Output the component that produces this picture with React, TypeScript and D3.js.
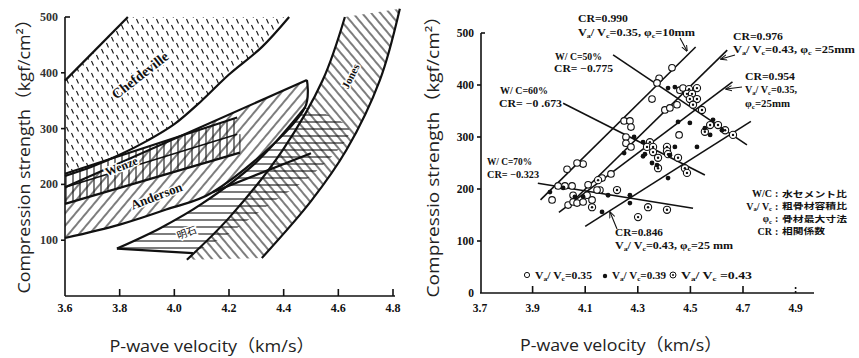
import React from 'react';
import * as d3 from 'd3';

type P = [number, number];

// ---------- axis ticks ----------
const LEFT_X_TICKS = [3.6, 3.8, 4.0, 4.2, 4.4, 4.6, 4.8];
const LEFT_Y_TICKS = [100, 200, 300, 400, 500];
const RIGHT_X_TICKS = [3.7, 3.9, 4.1, 4.3, 4.5, 4.7, 4.9];
const RIGHT_Y_TICKS = [0, 100, 200, 300, 400, 500];

// ---------- left chart: regions (velocity km/s, strength kgf/cm2) ----------
const CHEF_UPPER: P[] = [[3.6, 386], [3.83, 500]];
const CHEF_LOWER: P[] = [[3.6, 215], [3.7, 232], [3.8, 253], [3.9, 278], [4.0, 308], [4.1, 350], [4.2, 397], [4.32, 446], [4.42, 500]];
const WENZE_TOP: P[] = [[3.6, 219], [4.23, 320]];
const WENZE_MID: P[] = [[3.6, 195], [4.23, 290]];
const WENZE_BOTTOM: P[] = [[3.6, 165], [4.24, 257]];
const ANDERSON_TOP: P[] = [[3.6, 195], [4.485, 387]];
const ANDERSON_BOTTOM: P[] = [[3.6, 104], [3.8, 128], [3.97, 155], [4.14, 186], [4.478, 338], [4.485, 387]];
const ANDERSON_EXTRA: P[] = [[4.14, 186], [4.5, 256]];
const AKASHI_TOP: P[] = [[3.79, 85], [3.95, 122], [4.1, 165], [4.3, 240], [4.478, 338]];
const AKASHI_RIGHT: P[] = [[4.478, 338], [4.56, 325], [4.64, 297], [4.52, 224], [4.345, 163], [4.2, 112], [4.068, 77]];
const AKASHI_BOTTOM: P[] = [[4.068, 77], [3.79, 85]];
const JONES_LEFT: P[] = [[4.046, 65], [4.2, 140], [4.397, 262], [4.543, 387], [4.624, 500]];
const JONES_RIGHT: P[] = [[4.32, 68], [4.5, 170], [4.63, 262], [4.752, 387], [4.825, 515]];

// ---------- right chart: regression lines ----------
const LINE_CR990: P[] = [[3.93, 179], [4.52, 473]];
const LINE_CR976: P[] = [[4.05, 175], [4.64, 467]];
const LINE_CR954: P[] = [[4.0, 155], [4.66, 406]];
const LINE_CR846: P[] = [[4.1, 128], [4.73, 330]];
const LINE_WC50: P[] = [[4.206, 458], [4.715, 285]];
const LINE_WC60: P[] = [[4.016, 365], [4.555, 227]];
const LINE_WC70: P[] = [[3.92, 211], [4.51, 163]];

// ---------- right chart: data points ----------
const OPEN_PTS: P[] = [
  [4.43, 433], [4.381, 413], [4.373, 404], [4.354, 373], [4.248, 331], [4.27, 331], [4.274, 319],
  [4.255, 300], [4.255, 288], [4.274, 281], [4.092, 248], [4.069, 250], [4.031, 238], [4.198, 229],
  [4.403, 352], [4.422, 356], [4.449, 362], [4.46, 390], [4.457, 304], [4.472, 394],
  [3.974, 179], [3.997, 206], [4.023, 206], [4.05, 206], [4.111, 208], [4.035, 169], [4.054, 175],
  [4.069, 173], [4.092, 175], [4.107, 188], [4.126, 179], [4.156, 198], [4.145, 198], [4.164, 221],
  [4.054, 188],
];
const FILLED_PTS: P[] = [
  [4.415, 394], [4.441, 396], [4.286, 300], [4.453, 329], [4.498, 327], [4.586, 333], [4.555, 317],
  [4.575, 304], [4.62, 313], [4.525, 281], [4.441, 281], [4.422, 265], [4.354, 250], [4.373, 246],
  [4.32, 263], [4.248, 269], [4.415, 221], [3.966, 194], [4.016, 202], [4.061, 185], [4.092, 185],
  [4.164, 156], [4.27, 173], [4.27, 188], [4.187, 188], [4.32, 290], [4.327, 267],
];
const DOUBLE_PTS: P[] = [
  [4.495, 392], [4.525, 394], [4.487, 383], [4.506, 383], [4.525, 373], [4.498, 373], [4.51, 362],
  [4.544, 352], [4.555, 310], [4.575, 323], [4.605, 323], [4.632, 313], [4.662, 304],
  [4.346, 290], [4.335, 281], [4.358, 281], [4.358, 271], [4.377, 260], [4.377, 240], [4.411, 281],
  [4.411, 273], [4.415, 267], [4.453, 260], [4.479, 240], [4.487, 231], [4.221, 198], [4.126, 165],
  [4.301, 146], [4.339, 165], [4.411, 160], [4.149, 217],
];

// ---------- text ----------
const ANNOTATIONS: { t: string; x: number; y: number; w: number }[] = [
  { t: 'CR=0.990', x: 578, y: 22, w: 50 },
  { t: 'V_a/ V_c=0.35,  φ_c=10mm', x: 578, y: 36, w: 117 },
  { t: 'CR=0.976', x: 733, y: 40, w: 50 },
  { t: 'V_a/ V_c=0.43,  φ_c =25mm', x: 733, y: 53, w: 122 },
  { t: 'CR=0.954', x: 745, y: 80, w: 50 },
  { t: 'V_a/ V_c=0.35,', x: 745, y: 93, w: 52 },
  { t: 'φ_c=25mm', x: 745, y: 107, w: 45 },
  { t: 'W/ C=50%', x: 555, y: 60, w: 47 },
  { t: 'CR= −0.775', x: 554, y: 72, w: 59 },
  { t: 'W/ C=60%', x: 500, y: 94, w: 48 },
  { t: 'CR= −0 .673', x: 499, y: 107, w: 63 },
  { t: 'W/ C=70%', x: 487, y: 165, w: 45 },
  { t: 'CR= −0.323', x: 487, y: 178, w: 52 },
  { t: 'CR=0.846', x: 615, y: 236, w: 48 },
  { t: 'V_a/ V_c=0.43,  φ_c=25 mm', x: 615, y: 249, w: 118 },
];
const LEGEND_ITEMS = ['V_a/ V_c=0.35', 'V_a/ V_c=0.39', 'V_a/ V_c =0.43'];
const NOTE_KEYS = ['W/C', 'V_a/ V_c', 'φ_c', 'CR'];
const NOTE_VALUES = ['水セメント比', '粗骨材容積比', '骨材最大寸法', '相関係数'];

const SERIF = '"Liberation Serif", "DejaVu Serif", serif';
const SANS = '"Open Sans", "Noto Sans", "Noto Sans CJK JP", sans-serif';
const CJK = '"Noto Sans CJK JP", "Noto Sans CJK SC", sans-serif';

function Rich({ s }: { s: string }) {
  const out: React.ReactNode[] = [];
  let buf = '';
  let shifted = false;
  let k = 0;
  const flush = () => {
    if (buf) {
      out.push(<tspan key={k++} dy={shifted ? -1.5 : 0}>{buf}</tspan>);
      shifted = false;
      buf = '';
    }
  };
  for (let i = 0; i < s.length; i++) {
    if (s[i] === '_' && i + 1 < s.length) {
      flush();
      out.push(<tspan key={k++} fontSize={6.5} dy={shifted ? 0 : 1.5}>{s[i + 1]}</tspan>);
      shifted = true;
      i++;
    } else {
      buf += s[i];
    }
  }
  flush();
  return <>{out}</>;
}

export default function App() {
  const xL = d3.scaleLinear().domain([3.6, 4.8]).range([65, 393]);
  const yL = d3.scaleLinear().domain([0, 500]).range([296, 17]);
  const xR = d3.scaleLinear().domain([3.7, 4.9]).range([480, 795.6]);
  const yR = d3.scaleLinear().domain([0, 500]).range([293, 33]);

  const lineL = d3.line<P>().x(d => xL(d[0])).y(d => yL(d[1]));
  const curveL = d3.line<P>().x(d => xL(d[0])).y(d => yL(d[1])).curve(d3.curveCatmullRom.alpha(0.5));
  const lineR = d3.line<P>().x(d => xR(d[0])).y(d => yR(d[1]));

  const join = (...segs: string[]) =>
    segs.map((s, i) => (i === 0 ? s : s.replace(/^M/, 'L'))).join('') + 'Z';

  const chefPoly = join(lineL(CHEF_UPPER) as string, lineL([[3.83, 500], [4.42, 500]]) as string, curveL([...CHEF_LOWER].reverse()) as string);
  const wenzePoly = join(lineL(WENZE_TOP) as string, lineL([[4.23, 320], [4.24, 257]]) as string, lineL([...WENZE_BOTTOM].reverse()) as string);
  const andersonPoly = join(lineL(ANDERSON_TOP) as string, curveL([...ANDERSON_BOTTOM].reverse()) as string);
  const akashiPoly = join(curveL(AKASHI_TOP) as string, curveL(AKASHI_RIGHT) as string, lineL(AKASHI_BOTTOM) as string);
  const jonesPoly = join(curveL(JONES_LEFT) as string, lineL([[4.624, 500], [4.825, 515]]) as string, curveL([...JONES_RIGHT].reverse()) as string);

  const bold = 2.2;
  const noteW = [65, 65, 65, 43];

  return (
    <svg width={859} height={358} style={{ position: 'absolute', left: 0, top: 0, background: '#fff' }}>
      <defs>
        <pattern id="pDash" width={10} height={12} patternUnits="userSpaceOnUse">
          <path d="M1.5,1 L3.5,5.5 M6.5,7 L8.5,11.5" stroke="#111" strokeWidth={1.1} />
        </pattern>
        <pattern id="pVert" width={7} height={10} patternUnits="userSpaceOnUse">
          <line x1={3} y1={0} x2={3} y2={10} stroke="#111" strokeWidth={1.1} />
        </pattern>
        <pattern id="pFwd" width={8} height={10} patternUnits="userSpaceOnUse" patternTransform="rotate(40)">
          <line x1={3} y1={0} x2={3} y2={10} stroke="#111" strokeWidth={1.1} />
        </pattern>
        <pattern id="pHoriz" width={10} height={7} patternUnits="userSpaceOnUse">
          <line x1={0} y1={3} x2={10} y2={3} stroke="#111" strokeWidth={1.1} />
        </pattern>
        <pattern id="pBack" width={7} height={10} patternUnits="userSpaceOnUse" patternTransform="rotate(-40)">
          <line x1={3} y1={0} x2={3} y2={10} stroke="#111" strokeWidth={1.1} />
        </pattern>
        <marker id="arrow" viewBox="0 0 10 10" refX={9} refY={5} markerWidth={6} markerHeight={6} orient="auto">
          <path d="M0,1 L10,5 L0,9" fill="none" stroke="#111" strokeWidth={1.5} />
        </marker>
      </defs>
      <rect x={0} y={0} width={859} height={358} fill="#fff" />

      {/* ================= LEFT CHART ================= */}
      <g>
        <path d={chefPoly} fill="url(#pDash)" />
        <path d={andersonPoly} fill="url(#pFwd)" />
        <path d={wenzePoly} fill="url(#pVert)" />
        <path d={akashiPoly} fill="url(#pHoriz)" />
        <path d={jonesPoly} fill="url(#pBack)" />

        <g fill="none" stroke="#111" strokeWidth={bold} strokeLinejoin="round">
          <path d={lineL(CHEF_UPPER) as string} />
          <path d={curveL(CHEF_LOWER) as string} />
          <path d={lineL(WENZE_TOP) as string} />
          <path d={lineL(WENZE_MID) as string} strokeWidth={1.6} />
          <path d={lineL(WENZE_BOTTOM) as string} />
          <path d={lineL([[4.24, 290], [4.24, 257]]) as string} strokeWidth={1} />
          <path d={lineL(ANDERSON_TOP) as string} />
          <path d={curveL(ANDERSON_BOTTOM) as string} />
          <path d={lineL(ANDERSON_EXTRA) as string} />
          <path d={curveL(AKASHI_TOP) as string} />
          <path d={lineL(AKASHI_BOTTOM) as string} />
          <path d={curveL(JONES_LEFT) as string} />
          <path d={curveL(JONES_RIGHT) as string} />
        </g>

        {/* region labels */}
        <g fontFamily={SERIF} fontWeight="bold" fill="#111" stroke="#fff" strokeWidth={3} style={{ paintOrder: 'stroke' }}>
          <text transform="translate(143,79) rotate(-38)" textAnchor="middle" fontSize={14}>Chefdeville</text>
          <text transform="translate(123,170) rotate(-22)" textAnchor="middle" fontSize={12}>Wenze</text>
          <text transform="translate(158,200) rotate(-21)" textAnchor="middle" fontSize={13}>Anderson</text>
          <text transform="translate(354,78) rotate(-63)" textAnchor="middle" fontSize={11}>Jones</text>
        </g>
        <text transform="translate(188,236) rotate(-20)" textAnchor="middle" fontSize={10} fontFamily={CJK}
          fill="#111" stroke="#fff" strokeWidth={3} style={{ paintOrder: 'stroke' }}>明石</text>

        {/* axes */}
        <g stroke="#111" strokeWidth={1.6} fill="none">
          <line x1={xL(3.6)} y1={yL(500)} x2={xL(3.6)} y2={yL(0)} />
          <line x1={xL(3.6)} y1={yL(0)} x2={395} y2={yL(0)} />
          {LEFT_X_TICKS.slice(1).map(v => (
            <line key={v} x1={xL(v)} y1={yL(0)} x2={xL(v)} y2={yL(0) - 7} />
          ))}
          {LEFT_Y_TICKS.map(s => (
            <line key={s} x1={xL(3.6) - (s === 500 ? 0 : 4)} y1={yL(s)} x2={xL(3.6) + (s === 500 ? 5 : 0)} y2={yL(s)} />
          ))}
        </g>
        <g fontFamily={SERIF} fontWeight="bold" fontSize={12} fill="#111">
          {LEFT_X_TICKS.map(v => (
            <text key={v} x={xL(v)} y={312} textAnchor="middle">{v.toFixed(1)}</text>
          ))}
          {LEFT_Y_TICKS.map(s => (
            <text key={s} x={58} y={yL(s) + 4} textAnchor="end" fill="#333">{s}</text>
          ))}
        </g>
        <text transform="translate(24,152) rotate(-90)" textAnchor="middle" dy="0.35em" fontFamily={SANS}
          fontSize={17} fill="#222" textLength={283} lengthAdjust="spacingAndGlyphs">Compression strength（kgf/cm²）</text>
        <text x={212} y={352} textAnchor="middle" fontFamily={SANS} fontSize={17} fill="#222"
          textLength={205} lengthAdjust="spacingAndGlyphs">P-wave velocity（km/s）</text>
      </g>

      {/* ================= RIGHT CHART ================= */}
      <g>
        <g stroke="#111" strokeWidth={1.6} fill="none">
          {[LINE_CR990, LINE_CR976, LINE_CR954, LINE_CR846, LINE_WC50, LINE_WC60, LINE_WC70].map((l, i) => (
            <path key={i} d={lineR(l) as string} />
          ))}
        </g>
        {/* leaders */}
        <g stroke="#111" strokeWidth={1.1} fill="none">
          <line x1={680} y1={38} x2={687} y2={51} markerEnd="url(#arrow)" />
          <line x1={735} y1={55} x2={721} y2={59} markerEnd="url(#arrow)" />
          <line x1={742} y1={87} x2={726} y2={89} markerEnd="url(#arrow)" />
          <line x1={617} y1={229} x2={610} y2={212} markerEnd="url(#arrow)" />
        </g>
        {/* points */}
        <g>
          {OPEN_PTS.map((p, i) => (
            <circle key={'o' + i} cx={xR(p[0])} cy={yR(p[1])} r={3.3} fill="#fff" stroke="#111" strokeWidth={1.1} />
          ))}
          {DOUBLE_PTS.map((p, i) => (
            <g key={'d' + i}>
              <circle cx={xR(p[0])} cy={yR(p[1])} r={3.6} fill="#fff" stroke="#111" strokeWidth={1.1} />
              <circle cx={xR(p[0])} cy={yR(p[1])} r={1.2} fill="#111" />
            </g>
          ))}
          {FILLED_PTS.map((p, i) => (
            <circle key={'f' + i} cx={xR(p[0])} cy={yR(p[1])} r={2.4} fill="#111" />
          ))}
        </g>

        {/* annotations */}
        <g fontFamily={SERIF} fontWeight="bold" fontSize={10} fill="#111">
          {ANNOTATIONS.map((a, i) => (
            <text key={i} x={a.x} y={a.y} textLength={a.w} lengthAdjust="spacingAndGlyphs">
              <Rich s={a.t} />
            </text>
          ))}
        </g>

        {/* legend */}
        <g>
          <circle cx={527} cy={275} r={2.6} fill="#fff" stroke="#111" strokeWidth={1} />
          <circle cx={605} cy={276} r={2.2} fill="#111" />
          <circle cx={673} cy={275} r={3} fill="#fff" stroke="#111" strokeWidth={1} />
          <circle cx={673} cy={275} r={1} fill="#111" />
          <g fontFamily={SERIF} fontWeight="bold" fontSize={10} fill="#111">
            <text x={535} y={279} textLength={57} lengthAdjust="spacingAndGlyphs"><Rich s={LEGEND_ITEMS[0]} /></text>
            <text x={612} y={279} textLength={54} lengthAdjust="spacingAndGlyphs"><Rich s={LEGEND_ITEMS[1]} /></text>
            <text x={681} y={279} textLength={71} lengthAdjust="spacingAndGlyphs"><Rich s={LEGEND_ITEMS[2]} /></text>
          </g>
        </g>

        {/* notes */}
        <g fill="#111">
          {NOTE_KEYS.map((k, i) => (
            <g key={k}>
              <text x={772} y={197 + i * 12.6} textAnchor="end" fontFamily={SERIF} fontWeight="bold" fontSize={10}>
                <Rich s={k} />
              </text>
              <text x={775} y={197 + i * 12.6} fontFamily={SERIF} fontWeight="bold" fontSize={10}>:</text>
              <text x={782} y={196.5 + i * 12.6} fontFamily={CJK} fontWeight="bold" fontSize={8.5}
                textLength={noteW[i]} lengthAdjust="spacingAndGlyphs">{NOTE_VALUES[i]}</text>
            </g>
          ))}
        </g>

        {/* axes */}
        <g stroke="#111" strokeWidth={1.6} fill="none">
          <line x1={481} y1={yR(500)} x2={481} y2={yR(0)} />
          <line x1={480} y1={yR(0)} x2={814} y2={yR(0)} />
          {RIGHT_X_TICKS.slice(1).map(v => (
            <line key={v} x1={xR(v)} y1={yR(0)} x2={xR(v)} y2={yR(0) - 7} strokeDasharray={v > 4.8 ? '2,2' : undefined} />
          ))}
          {RIGHT_Y_TICKS.slice(1).map(s => (
            <line key={s} x1={481 - (s === 500 ? 0 : 4)} y1={yR(s)} x2={481 + (s === 500 ? 4 : 0)} y2={yR(s)} />
          ))}
        </g>
        <g fontFamily={SERIF} fontWeight="bold" fontSize={11.5} fill="#111">
          {RIGHT_X_TICKS.map(v => (
            <text key={v} x={xR(v)} y={312} textAnchor="middle">{v.toFixed(1)}</text>
          ))}
          {RIGHT_Y_TICKS.map(s => (
            <text key={s} x={474} y={yR(s) + 4} textAnchor="end">{s}</text>
          ))}
        </g>
        <text transform="translate(433,152) rotate(-90)" textAnchor="middle" dy="0.35em" fontFamily={SANS}
          fontSize={17} fill="#222" textLength={291} lengthAdjust="spacingAndGlyphs">Compressio strength（kgf/cm²）</text>
        <text x={621} y={351} textAnchor="middle" fontFamily={SANS} fontSize={17} fill="#222"
          textLength={202} lengthAdjust="spacingAndGlyphs">P-wave velocity（km/s）</text>
      </g>
    </svg>
  );
}
